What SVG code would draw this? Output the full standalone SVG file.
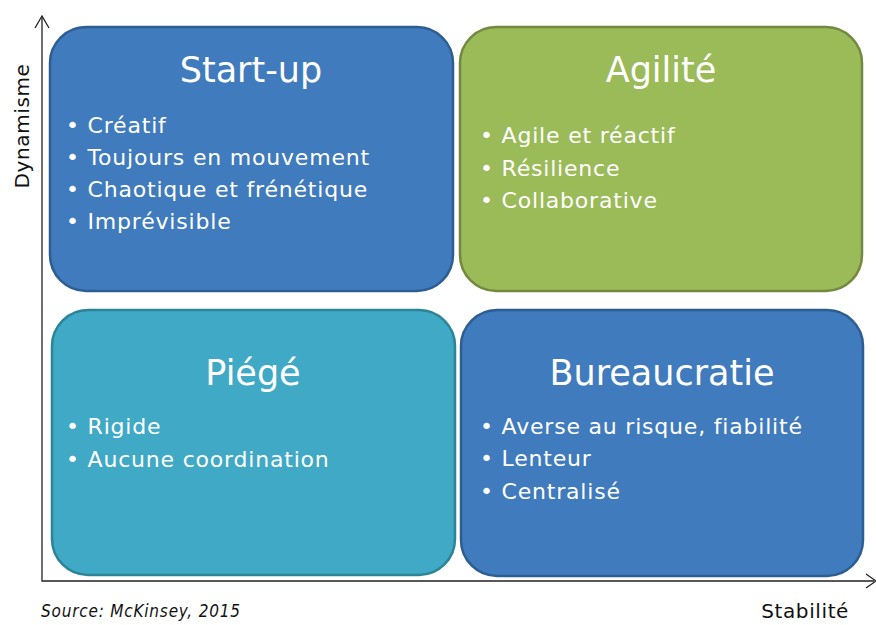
<svg xmlns="http://www.w3.org/2000/svg" width="876" height="625" viewBox="0 0 876 625">
<style>
.box{stroke-width:2.5}
.blue{fill:#3F7BBD;stroke:#2D5E92}
.green{fill:#9BBB59;stroke:#72893F}
.teal{fill:#3FA9C6;stroke:#2B8497}
.title{font-family:"DejaVu Sans",sans-serif;font-size:35px;fill:#fff;text-anchor:middle}
.item{font-family:"DejaVu Sans",sans-serif;font-size:22px;letter-spacing:0.8px;fill:#fff}
.axis{stroke:#222;stroke-width:1.3;fill:none}
.lbl{font-family:"DejaVu Sans",sans-serif;font-size:20px;letter-spacing:0.6px;fill:#111}
</style>
<g id="axes">
<path class="axis" d="M42,16 V581 H874"/>
<path class="axis" d="M35,28 L42,16 L49,28"/>
<path class="axis" d="M866,574 L876,581 L866,588"/>
</g>
<g id="startup">
<rect class="box blue" x="50" y="27" width="403" height="264" rx="36"/>
<text class="title" x="251" y="82">Start-up</text>
<text class="item" x="66" y="133">• Créatif</text>
<text class="item" x="66" y="165">• Toujours en mouvement</text>
<text class="item" x="66" y="197">• Chaotique et frénétique</text>
<text class="item" x="66" y="229">• Imprévisible</text>
</g>
<g id="agilite">
<rect class="box green" x="460" y="27" width="402" height="264" rx="36"/>
<text class="title" x="661" y="82">Agilité</text>
<text class="item" x="480" y="143">• Agile et réactif</text>
<text class="item" x="480" y="176">• Résilience</text>
<text class="item" x="480" y="208">• Collaborative</text>
</g>
<g id="piege">
<rect class="box teal" x="52" y="310" width="403" height="265" rx="36"/>
<text class="title" x="253" y="385">Piégé</text>
<text class="item" x="66" y="434">• Rigide</text>
<text class="item" x="66" y="467">• Aucune coordination</text>
</g>
<g id="bureaucratie">
<rect class="box blue" x="461" y="310" width="402" height="266" rx="36"/>
<text class="title" x="662" y="385">Bureaucratie</text>
<text class="item" x="480" y="434">• Averse au risque, fiabilité</text>
<text class="item" x="480" y="466">• Lenteur</text>
<text class="item" x="480" y="499">• Centralisé</text>
</g>
<g id="labels">
<text class="lbl" transform="translate(29,126) rotate(-90)" text-anchor="middle">Dynamisme</text>
<text class="lbl" x="849" y="618" text-anchor="end">Stabilité</text>
<text x="41" y="617" font-family="DejaVu Sans Condensed,DejaVu Sans,sans-serif" font-style="italic" font-size="17" letter-spacing="0.8" fill="#111">Source: McKinsey, 2015</text>
</g>
</svg>
